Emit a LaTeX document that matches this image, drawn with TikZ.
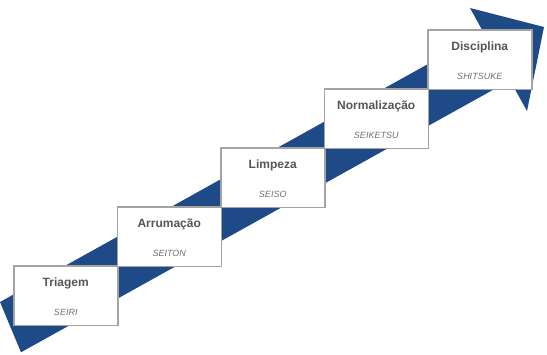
\documentclass[tikz,border=0pt]{standalone}
\usepackage{fontspec}
\setmainfont{Liberation Sans}
\usetikzlibrary{calc}
\definecolor{arrowblue}{HTML}{1F4A88}
\definecolor{boxgray}{HTML}{A3A3A3}
\definecolor{titlegray}{HTML}{555555}
\definecolor{subgray}{HTML}{707070}
\begin{document}
\begin{tikzpicture}[x=1pt,y=-1pt,
  stepbox/.style={draw=boxgray, line width=1.5pt, fill=white, minimum width=104pt, minimum height=59.5pt, inner sep=0pt},
  steptitle/.style={font=\bfseries\fontsize{12}{14}\selectfont, text=titlegray, anchor=base, inner sep=0pt},
  stepsub/.style={font=\itshape\fontsize{9}{11}\selectfont, text=subgray, anchor=base, inner sep=0pt}]
\useasboundingbox (0,0) rectangle (547,354);
% arrow
\coordinate (tailtop) at (0,302);
\coordinate (tailbot) at (21,352.3);
\coordinate (neckup) at (483.8,33);
\coordinate (necklow) at (510,80.4);
\coordinate (barbup) at (470,8);
\coordinate (barblow) at (527,111);
\coordinate (tip) at (544,27);
\fill[arrowblue] (tailtop) -- (neckup) -- (barbup) -- (tip) -- (barblow) -- (necklow) -- (tailbot) -- cycle;
% boxes
\node[stepbox, anchor=north west] (b1) at (13,265) {};
\node[stepbox, anchor=north west] (b2) at (116.5,206) {};
\node[stepbox, anchor=north west] (b3) at (220,147) {};
\node[stepbox, anchor=north west] (b4) at (323.5,88) {};
\node[stepbox, anchor=north west] (b5) at (427,29) {};
% texts
\node[steptitle] (t1) at ($(b1.north)+(0,21)$) {Triagem};
\node[stepsub] (s1) at ($(b1.south)+(0,-11)$) {SEIRI};
\node[steptitle] (t2) at ($(b2.north)+(0,21)$) {Arrumação};
\node[stepsub] (s2) at ($(b2.south)+(0,-11)$) {SEITON};
\node[steptitle] (t3) at ($(b3.north)+(0,21)$) {Limpeza};
\node[stepsub] (s3) at ($(b3.south)+(0,-11)$) {SEISO};
\node[steptitle] (t4) at ($(b4.north)+(0,21)$) {Normalização};
\node[stepsub] (s4) at ($(b4.south)+(0,-11)$) {SEIKETSU};
\node[steptitle] (t5) at ($(b5.north)+(0,21)$) {Disciplina};
\node[stepsub] (s5) at ($(b5.south)+(0,-11)$) {SHITSUKE};
\end{tikzpicture}
\end{document}
